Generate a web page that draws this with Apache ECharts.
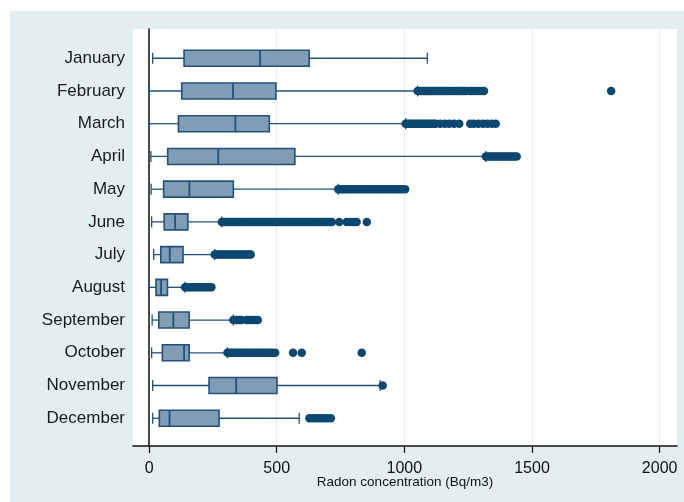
<!DOCTYPE html>
<html>
<head>
<meta charset="utf-8">
<script src="https://cdn.jsdelivr.net/npm/echarts@6/dist/echarts.min.js"></script>
<style>html,body{margin:0;padding:0;background:#fff}#c{width:684px;height:502px}</style>
</head>
<body>
<div id="c"></div>
<script>
const months = ["January","February","March","April","May","June","July","August","September","October","November","December"];
const lowWhisker  = [14, 0, 0, 7, 8, 10, 18, 0, 12, 10, 14, 14];
const q1          = [137, 128, 115, 73, 57, 59, 46, 27, 38, 52, 235, 40];
const median      = [435, 329, 338, 271, 158, 102, 81, 47, 95, 137, 341, 80];
const q3          = [627, 497, 471, 571, 330, 152, 133, 72, 157, 157, 501, 274];
const highWhisker = [1090, 1052, 1005, 1319, 741, 285, 257, 141, 330, 307, 905, 588];
const xTicks = [0, 500, 1000, 1500, 2000];

const outJan = [];
const outFeb = [1052,1060,1068,1075,1083,1090,1098,1105,1112,1120,1128,1135,1143,1150,1158,1165,1172,1180,1188,1195,1203,1210,1218,1226,1234,1242,1258,1268,1280,1292,1302,1312,1810];
const outMar = [1005,1012,1020,1028,1036,1044,1052,1060,1068,1076,1084,1092,1100,1108,1116,1122,1140,1158,1176,1195,1215,1258,1272,1290,1308,1325,1342,1358];
const outApr = [1319,1327,1335,1343,1351,1359,1367,1375,1383,1391,1399,1407,1415,1423,1431,1440];
const outMay = [741,750,759,768,777,786,795,804,813,822,831,840,849,858,867,876,885,894,903,912,921,930,939,948,957,966,975,984,993,1003];
const outJun = [285,293,301,309,317,325,333,341,349,357,365,373,381,389,397,405,413,421,429,437,445,453,461,469,477,485,493,501,509,517,525,533,541,549,557,565,573,581,589,597,605,613,621,629,637,645,653,661,669,677,685,693,701,709,716,745,774,788,800,813,853];
const outJul = [257,265,273,281,289,297,305,313,321,329,337,345,353,361,369,377,385,393,398];
const outAug = [141,149,157,165,173,181,189,197,205,213,221,229,237,244];
const outSep = [330,338,346,354,362,382,392,404,416,426];
const outOct = [307,315,323,331,339,347,355,363,371,379,387,395,403,411,419,427,435,443,451,459,467,475,483,494,564,598,833];
const outNov = [915];
const outDec = [628,640,652,664,676,688,700,712];
const outliers = [outJan,outFeb,outMar,outApr,outMay,outJun,outJul,outAug,outSep,outOct,outNov,outDec];

const boxData = months.map((m,i)=>[i, lowWhisker[i], q1[i], median[i], q3[i], highWhisker[i]]);
const outData = [];
outliers.forEach((arr,i)=>arr.forEach(v=>outData.push([v, i])));

const FONT = "'Liberation Sans', Arial, Helvetica, sans-serif";
const BOX_FILL = '#7f9db5';
const BOX_LINE = '#24517a';
const DOT = '#0b4870';
const XMIN = -63, XMAX = 2068;

const chart = echarts.init(document.getElementById('c'), null, {renderer:'canvas'});
chart.setOption({
  animation: false,
  backgroundColor: '#e3eef1',
  graphic: [
    {type:'rect', shape:{x:0,y:0,width:10,height:502}, style:{fill:'#ffffff'}, silent:true},
    {type:'rect', shape:{x:0,y:0,width:684,height:11}, style:{fill:'#ffffff'}, silent:true}
  ],
  grid: [
    {left:133, top:29, width:544, height:417, show:true, backgroundColor:'#ffffff', borderWidth:0},
    {left:133, top:41.9, width:544, height:392.7}
  ],
  xAxis: [
    {gridIndex:0, type:'value', min:XMIN, max:XMAX,
     name:'Radon concentration (Bq/m3)', nameLocation:'middle', nameGap:36, nameMoveOverlap:false,
     nameTextStyle:{fontFamily:FONT, fontSize:13.5, color:'#111', verticalAlign:'middle'},
     axisLine:{show:true, lineStyle:{color:'#111', width:1.5}},
     axisTick:{show:true, length:7, customValues:xTicks, lineStyle:{color:'#111', width:1.2}},
     axisLabel:{show:true, customValues:xTicks, margin:15, fontFamily:FONT, fontSize:16, color:'#111',
                formatter: v => String(v)},
     splitLine:{show:true, lineStyle:{color:'#e9ecec', width:1.2}}},
    {gridIndex:1, type:'value', min:XMIN, max:XMAX, show:false}
  ],
  yAxis: [
    {gridIndex:0, type:'value', min:0, max:1,
     axisLine:{show:true, lineStyle:{color:'#111', width:1.5}},
     axisTick:{show:false}, axisLabel:{show:false}, splitLine:{show:false}},
    {gridIndex:1, type:'category', data:months, inverse:true,
     axisLine:{show:false}, axisTick:{show:false}, splitLine:{show:false},
     axisLabel:{margin:8, fontFamily:FONT, fontSize:17, color:'#1a1a1a'}}
  ],
  series: [
    {type:'custom', xAxisIndex:1, yAxisIndex:1, data:boxData,
     encode:{y:0, x:[1,2,3,4,5]},
     renderItem: function(params, api){
       const c = api.value(0);
       const pL = api.coord([api.value(1), c]);
       const p1 = api.coord([api.value(2), c]);
       const pM = api.coord([api.value(3), c]);
       const p3 = api.coord([api.value(4), c]);
       const pH = api.coord([api.value(5), c]);
       const y = pL[1], hb = 8, hc = 5.5;
       const ls = {stroke:BOX_LINE, lineWidth:1.3};
       return {type:'group', children:[
         {type:'line', shape:{x1:pL[0],y1:y,x2:p1[0],y2:y}, style:ls},
         {type:'line', shape:{x1:p3[0],y1:y,x2:pH[0],y2:y}, style:ls},
         {type:'line', shape:{x1:pL[0],y1:y-hc,x2:pL[0],y2:y+hc}, style:ls},
         {type:'line', shape:{x1:pH[0],y1:y-hc,x2:pH[0],y2:y+hc}, style:ls},
         {type:'rect', shape:{x:p1[0],y:y-hb,width:p3[0]-p1[0],height:2*hb}, style:{fill:BOX_FILL, stroke:BOX_LINE, lineWidth:1.6}},
         {type:'line', shape:{x1:pM[0],y1:y-hb,x2:pM[0],y2:y+hb}, style:{stroke:BOX_LINE, lineWidth:1.8}}
       ]};
     }},
    {type:'scatter', xAxisIndex:1, yAxisIndex:1, data:outData, symbol:'circle', symbolSize:8.5,
     itemStyle:{color:DOT, opacity:1}, z:3}
  ]
});
</script>
</body>
</html>
